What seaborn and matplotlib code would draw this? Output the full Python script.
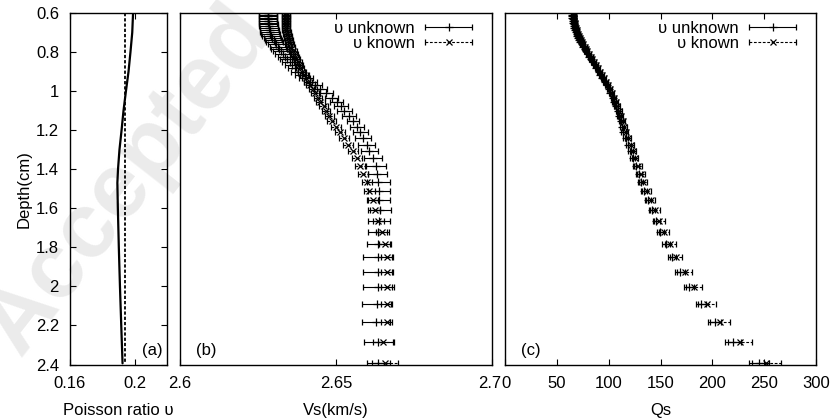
import matplotlib
matplotlib.use("Agg")
import matplotlib.pyplot as plt
import matplotlib.transforms as mtransforms
from matplotlib.container import ErrorbarContainer
from matplotlib.legend_handler import HandlerErrorbar
import numpy as np
import pandas as pd
import seaborn as sns

# ---------------- data ----------------
depth = [0.602, 0.609, 0.617, 0.625, 0.633, 0.641, 0.649, 0.658, 0.667, 0.676,
         0.686, 0.696, 0.706, 0.716, 0.726, 0.737, 0.749, 0.760, 0.772, 0.785,
         0.797, 0.811, 0.824, 0.838, 0.853, 0.868, 0.884, 0.900, 0.917, 0.934,
         0.952, 0.971, 0.991, 1.011, 1.033, 1.055, 1.078, 1.102, 1.128, 1.154,
         1.182, 1.211, 1.242, 1.274, 1.308, 1.344, 1.382, 1.422, 1.464, 1.509,
         1.557, 1.608, 1.663, 1.721, 1.784, 1.852, 1.924, 2.003, 2.088, 2.181,
         2.283, 2.394]

vs_unknown = [2.6282, 2.6282, 2.6282, 2.6282, 2.6282, 2.6282, 2.6282, 2.6284, 2.6284, 2.6285,
              2.6287, 2.6288, 2.6290, 2.6293, 2.6296, 2.6300, 2.6304, 2.6308, 2.6313, 2.6317,
              2.6324, 2.6330, 2.6337, 2.6343, 2.6351, 2.6359, 2.6369, 2.6378, 2.6391, 2.6404,
              2.6418, 2.6434, 2.6450, 2.6468, 2.6486, 2.6503, 2.6516, 2.6527, 2.6542, 2.6555,
              2.6567, 2.6577, 2.6587, 2.6598, 2.6607, 2.6619, 2.6628, 2.6633, 2.6636, 2.6638,
              2.6638, 2.6640, 2.6638, 2.6636, 2.6636, 2.6636, 2.6636, 2.6636, 2.6630, 2.6627,
              2.6636, 2.6636]
vs_unknown_err = [0.0030, 0.0030, 0.0030, 0.0030, 0.0030, 0.0030, 0.0030, 0.0030, 0.0030, 0.0030,
                  0.0030, 0.0030, 0.0029, 0.0029, 0.0028, 0.0028, 0.0027, 0.0027, 0.0026, 0.0026,
                  0.0025, 0.0025, 0.0024, 0.0024, 0.0023, 0.0023, 0.0022, 0.0022, 0.0022, 0.0021,
                  0.0021, 0.0021, 0.0021, 0.0021, 0.0021, 0.0021, 0.0022, 0.0023, 0.0022, 0.0020,
                  0.0023, 0.0024, 0.0025, 0.0028, 0.0028, 0.0029, 0.0032, 0.0031, 0.0037, 0.0036,
                  0.0034, 0.0037, 0.0035, 0.0035, 0.0037, 0.0048, 0.0048, 0.0050, 0.0046, 0.0045,
                  0.0046, 0.0037]
vs_known = [2.6340, 2.6340, 2.6340, 2.6340, 2.6340, 2.6340, 2.6340, 2.6340, 2.6340, 2.6341,
            2.6341, 2.6343, 2.6343, 2.6345, 2.6346, 2.6348, 2.6349, 2.6353, 2.6354, 2.6357,
            2.6361, 2.6364, 2.6367, 2.6372, 2.6377, 2.6381, 2.6386, 2.6391, 2.6397, 2.6404,
            2.6410, 2.6418, 2.6426, 2.6434, 2.6442, 2.6450, 2.6460, 2.6468, 2.6478, 2.6486,
            2.6500, 2.6513, 2.6526, 2.6538, 2.6553, 2.6566, 2.6577, 2.6588, 2.6598, 2.6607,
            2.6617, 2.6625, 2.6636, 2.6646, 2.6657, 2.6662, 2.6662, 2.6662, 2.6662, 2.6662,
            2.6652, 2.6657]
vs_known_err = [0.0013, 0.0013, 0.0013, 0.0013, 0.0013, 0.0013, 0.0013, 0.0013, 0.0013, 0.0013,
                0.0013, 0.0013, 0.0013, 0.0013, 0.0013, 0.0013, 0.0013, 0.0013, 0.0013, 0.0013,
                0.0013, 0.0013, 0.0013, 0.0013, 0.0013, 0.0013, 0.0013, 0.0013, 0.0013, 0.0013,
                0.0014, 0.0014, 0.0014, 0.0014, 0.0014, 0.0014, 0.0014, 0.0014, 0.0014, 0.0014,
                0.0015, 0.0015, 0.0015, 0.0015, 0.0016, 0.0016, 0.0016, 0.0016, 0.0016, 0.0017,
                0.0017, 0.0017, 0.0017, 0.0018, 0.0018, 0.0018, 0.0018, 0.0018, 0.0018, 0.0018,
                0.0034, 0.0042]

qs_unknown = [64.9, 64.9, 64.9, 64.9, 65.2, 65.4, 65.7, 66.1, 66.4, 67.0,
              67.6, 68.3, 69.0, 69.8, 70.7, 71.6, 72.8, 74.0, 75.3, 76.8,
              78.1, 79.7, 81.3, 82.9, 84.7, 86.4, 88.2, 90.2, 92.1, 94.0,
              96.0, 98.0, 99.9, 101.7, 103.7, 105.4, 107.1, 108.8, 110.4, 112.0,
              113.1, 114.3, 116.4, 119.1, 121.2, 123.4, 126.3, 129.2, 130.9, 134.0,
              137.8, 141.7, 145.8, 149.9, 155.2, 161.2, 168.8, 177.7, 189.2, 202.3,
              220.0, 244.9]
qs_unknown_err = [1.5, 1.5, 1.5, 1.5, 1.5, 1.5, 1.5, 1.5, 1.5, 1.5,
                  1.5, 1.5, 1.5, 1.5, 1.5, 1.5, 1.5, 1.5, 1.5, 1.5,
                  1.5, 1.5, 1.5, 1.5, 1.5, 1.5, 1.5, 1.5, 1.5, 1.5,
                  1.6, 1.6, 1.7, 1.7, 1.7, 1.8, 1.8, 1.9, 1.9, 2.0,
                  2.0, 2.1, 2.1, 2.2, 2.3, 2.4, 2.5, 2.6, 2.7, 2.9,
                  3.0, 3.2, 3.3, 3.5, 3.7, 4.1, 4.5, 4.6, 4.8, 6.0,
                  7.4, 9.6]
qs_known = [66.3, 66.3, 66.3, 66.3, 66.6, 66.8, 67.1, 67.5, 67.8, 68.4,
            69.0, 69.7, 70.4, 71.2, 72.1, 73.0, 74.2, 75.4, 76.7, 78.2,
            79.5, 81.1, 82.7, 84.3, 86.1, 87.8, 89.6, 91.6, 93.5, 95.4,
            97.4, 99.4, 101.3, 103.1, 105.1, 106.8, 108.5, 110.2, 111.8, 113.4,
            115.1, 116.3, 118.4, 121.1, 123.2, 125.4, 128.3, 131.2, 133.3, 136.6,
            140.6, 144.7, 149.0, 153.5, 159.2, 165.2, 173.2, 182.5, 194.8, 207.7,
            227.0, 251.9]
qs_known_err = [2.0, 2.0, 2.0, 2.0, 2.0, 2.0, 2.0, 2.0, 2.0, 2.0,
                2.0, 2.0, 2.0, 2.0, 2.0, 2.0, 2.0, 2.0, 2.0, 2.0,
                2.0, 2.0, 2.0, 2.0, 2.0, 2.0, 2.0, 2.0, 2.0, 2.0,
                2.1, 2.1, 2.2, 2.2, 2.3, 2.3, 2.4, 2.4, 2.5, 2.5,
                2.6, 2.7, 2.8, 2.9, 3.0, 3.2, 3.4, 3.6, 3.8, 4.1,
                4.3, 4.6, 4.9, 5.1, 5.3, 6.0, 7.0, 7.9, 8.7, 9.5,
                11.6, 14.0]

nu_depth = [0.602, 0.70, 0.80, 0.90, 1.00, 1.10, 1.20, 1.30, 1.40, 1.47,
            1.60, 1.80, 2.00, 2.20, 2.394]
nu_unknown = [0.1990, 0.1985, 0.1974, 0.1962, 0.1946, 0.1931, 0.1919, 0.1906, 0.1897, 0.1893,
              0.1896, 0.1902, 0.1909, 0.1917, 0.1925]
nu_known_depth = [0.602, 2.394]
nu_known = [0.1940, 0.1940]

depth_ticks = [0.6, 0.8, 1.0, 1.2, 1.4, 1.6, 1.8, 2.0, 2.2, 2.4]
depth_ticklabels = ["0.6", "0.8", "1", "1.2", "1.4", "1.6", "1.8", "2", "2.2", "2.4"]
nu_ticks = [0.16, 0.20]
nu_ticklabels = ["0.16", "0.2"]
vs_ticks = [2.60, 2.65, 2.70]
vs_ticklabels = ["2.6", "2.65", "2.7"]
qs_ticks = [0, 50, 100, 150, 200, 250, 300]
qs_ticklabels = ["0", "50", "100", "150", "200", "250", "300"]
series_labels = ["\u03c5 unknown", "\u03c5 known"]
panel_tags = ["(a)", "(b)", "(c)"]

# ---------------- style ----------------
sns.set_theme(style="white")
plt.rcParams['font.family'] = ['Liberation Sans', 'DejaVu Sans']
plt.rcParams.update({
    'axes.edgecolor': 'black', 'axes.linewidth': 1.0,
    'axes.facecolor': 'none',
    'xtick.direction': 'in', 'ytick.direction': 'in',
    'xtick.color': 'black', 'ytick.color': 'black',
    'xtick.major.size': 4.5, 'ytick.major.size': 4.5,
    'xtick.major.width': 0.8, 'ytick.major.width': 0.8,
    'text.color': 'black', 'axes.labelcolor': 'black',
    'font.size': 12,
})

W, H = 835, 420
fig = plt.figure(figsize=(W / 100, H / 100), dpi=100)
fig.patch.set_facecolor('white')


def rect(l, r, t=13.0, b=364.5):
    return [l / W, 1 - b / H, (r - l) / W, (b - t) / H]


axa = fig.add_axes(rect(70, 167))
axb = fig.add_axes(rect(180, 492))
axc = fig.add_axes(rect(505, 816))

# watermark
fig.text(128 / W, 1 - 180 / H, "Accepted", rotation=52, fontsize=66,
         fontweight='bold', color='#ebebeb', ha='center', va='center', zorder=-5)

FS = 12
# ---- panel (a)
df_u = pd.DataFrame({'depth': nu_depth, 'nu': nu_unknown})
df_k = pd.DataFrame({'depth': nu_known_depth, 'nu': nu_known})
sns.lineplot(data=df_u, x='nu', y='depth', orient='y', ax=axa, color='black',
             linewidth=1.6, estimator=None)
sns.lineplot(data=df_k, x='nu', y='depth', orient='y', ax=axa, color='black',
             linewidth=1.3, linestyle=(0, (1.8, 1.1)), estimator=None)
axa.set_xlim(0.16, 0.22)
axa.set_xticks(nu_ticks)
axa.set_xticklabels(nu_ticklabels)
axa.set_ylabel("Depth(cm)", fontsize=FS, labelpad=3)
axa.set_xlabel("Poisson ratio \u03c5", fontsize=FS, labelpad=9)
axa.set_yticks(depth_ticks)
axa.set_yticklabels(depth_ticklabels)
axa.tick_params(axis='y', left=True, right=True, labelsize=FS, pad=8)
axa.tick_params(axis='x', bottom=True, top=True, labelsize=FS, pad=8)


def err_panel(ax, xu, xue, xk, xke):
    e1 = ax.errorbar(xu, depth, xerr=xue, fmt='+', color='black', ms=6, mew=0.9,
                     elinewidth=0.8, capsize=2.2, capthick=0.8, label=series_labels[0])
    e2 = ax.errorbar(xk, depth, xerr=xke, fmt='x', color='black', ms=4.2, mew=0.9,
                     elinewidth=0.8, capsize=2.2, capthick=0.8, label=series_labels[1])
    e2[2][0].set_linestyle((0, (2.5, 1.5)))
    ax.legend(loc='upper right', bbox_to_anchor=(0.936, 0.978), frameon=False,
              markerfirst=False, handlelength=2.8, handletextpad=0.65,
              borderpad=0, borderaxespad=0, labelspacing=0.0, fontsize=FS,
              handler_map={ErrorbarContainer: HandlerErrorbar(xerr_size=1.4)})
    ax.set_yticks([])
    ax.tick_params(axis='x', bottom=True, top=True, labelsize=FS, pad=8)


err_panel(axb, vs_unknown, vs_unknown_err, vs_known, vs_known_err)
axb.set_xlim(2.6, 2.7)
axb.set_xticks(vs_ticks)
axb.set_xticklabels(vs_ticklabels)
axb.set_xlabel("Vs(km/s)", fontsize=FS, labelpad=9)

err_panel(axc, qs_unknown, qs_unknown_err, qs_known, qs_known_err)
axc.set_xlim(0, 300)
axc.set_xticks(qs_ticks)
axc.set_xticklabels(qs_ticklabels)
axc.set_xlabel("Qs", fontsize=FS, labelpad=9)

for ax in (axa, axb, axc):
    ax.set_ylim(2.4, 0.6)
    for s in ax.spines.values():
        s.set_visible(True)
        s.set_color('black')

axb.set_yticks([])
axc.set_yticks([])
axa.set_yticks(depth_ticks)
axa.set_yticklabels(depth_ticklabels)

# nudge "2.7" and "0" apart slightly (they touch in the reference: "2.70")
lab27 = axb.get_xticklabels()[-1]
lab27.set_transform(lab27.get_transform() + mtransforms.ScaledTranslation(-2.5 / 100, 0, fig.dpi_scale_trans))
lab0 = axc.get_xticklabels()[0]
lab0.set_transform(lab0.get_transform() + mtransforms.ScaledTranslation(1.0 / 100, 0, fig.dpi_scale_trans))

tag_pos = [(152, axa, 70, 97), (206, axb, 180, 312), (531, axc, 505, 311)]
for tag, (px, ax, l, w) in zip(panel_tags, tag_pos):
    ax.text((px - l) / w, (364.5 - 350) / 351.5, tag, transform=ax.transAxes,
            ha='center', va='center', fontsize=FS)

fig.savefig("out.png", dpi=100, facecolor='white')
